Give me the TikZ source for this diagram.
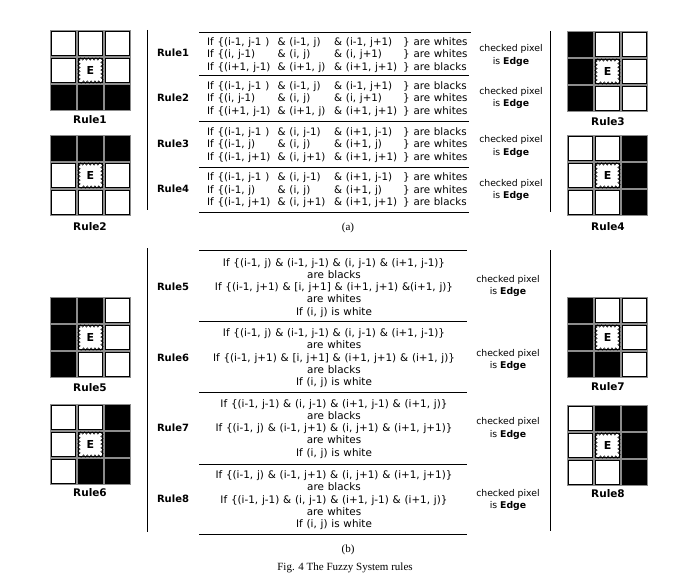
\documentclass[tikz,border=0pt]{standalone}
\usepackage{fontspec}
\setmainfont{DejaVu Sans}
\newfontfamily\rulefont[WordSpace=1.5]{DejaVu Sans}
\newfontfamily\tabfont[WordSpace=1.15]{DejaVu Sans}
\newfontfamily\capfont{Liberation Serif}
\usetikzlibrary{decorations.pathmorphing}
\tikzset{
  gridbg/.style={fill=black!45},
  pcell/.style={draw=black, line width=0.5pt},
  ezig/.style={draw=black, line width=0.5pt, decorate,
    decoration={zigzag, segment length=3.8pt, amplitude=1.2pt}},
  eletter/.style={font=\fontsize{11}{12}\selectfont\bfseries, inner sep=0pt},
  gridlbl/.style={font=\fontsize{10.5}{12}\selectfont\bfseries},
  rulelbl/.style={font=\fontsize{10}{12}\selectfont\bfseries},
  ruletxt/.style={font=\tabfont\fontsize{10.3}{12}\selectfont, anchor=base west, inner sep=0pt},
  ctrtxt/.style={font=\rulefont\fontsize{10.4}{12}\selectfont, anchor=base, inner sep=0pt},
  edgetxt/.style={font=\fontsize{9.3}{12.2}\selectfont, align=center, inner sep=0pt},
  sepline/.style={line width=0.8pt},
  vline/.style={line width=0.8pt},
  captxt/.style={font=\capfont\fontsize{11}{12}\selectfont, inner sep=0pt},
}
% grid: name, x, y, nine fill colours row by row (centre one is the E cell)
\newcommand{\pixgrid}[4]{%
  \begin{scope}[shift={(#2,#3)}]
    \fill[gridbg] (0,0) rectangle (81,81);
    \foreach \c [count=\i from 0] in {#4} {
      \pgfmathtruncatemacro{\cc}{mod(\i,3)}
      \pgfmathtruncatemacro{\rr}{div(\i,3)}
      \draw[pcell, fill=\c] ({\cc*27+1.6},{\rr*27+1.6}) rectangle ({\cc*27+25.4},{\rr*27+25.4});
    }
    \fill[white] (29,29) rectangle (52,52);
    \draw[ezig] (29,29) rectangle (52,52);
    \node[eletter] (#1) at (40.5,40.5) {E};
  \end{scope}}
% rule line of part (a): name, baseline y, four column texts
\newcommand{\aline}[6]{%
  \node[ruletxt] (#1a) at (207,#2) {#3};
  \node[ruletxt] (#1b) at (277.5,#2) {#4};
  \node[ruletxt] (#1c) at (334,#2) {#5};
  \node[ruletxt] (#1d) at (403,#2) {#6};}
% rule block of part (b): name, first baseline, five lines
\newcommand{\bblock}[7]{%
  \node[ctrtxt] (#1a) at (334,{#2}) {#3};
  \node[ctrtxt] (#1b) at (334,{#2+12.3}) {#4};
  \node[ctrtxt] (#1c) at (334,{#2+24.6}) {#5};
  \node[ctrtxt] (#1d) at (334,{#2+36.9}) {#6};
  \node[ctrtxt] (#1e) at (334,{#2+49.2}) {#7};}
\begin{document}
\begin{tikzpicture}[x=1pt,y=-1pt]
\useasboundingbox (0,0) rectangle (696,580);

% ---------- grids ----------
\pixgrid{g1}{50}{30}{white,white,white,white,white,white,black,black,black}
\pixgrid{g2}{50}{135}{black,black,black,white,white,white,white,white,white}
\pixgrid{g3}{567}{31}{black,white,white,black,white,white,black,white,white}
\pixgrid{g4}{567}{135}{white,white,black,white,white,black,white,white,black}
\pixgrid{g5}{50}{297}{black,black,white,black,white,white,black,white,white}
\pixgrid{g6}{50}{404}{white,white,black,white,white,black,white,black,black}
\pixgrid{g7}{567}{297}{black,white,white,black,white,white,black,black,white}
\pixgrid{g8}{567}{405}{white,black,black,white,white,black,white,white,black}

\node[gridlbl] (l1) at (90,120) {Rule1};
\node[gridlbl] (l2) at (90,227) {Rule2};
\node[gridlbl] (l3) at (608,122) {Rule3};
\node[gridlbl] (l4) at (608,227) {Rule4};
\node[gridlbl] (l5) at (90,388) {Rule5};
\node[gridlbl] (l6) at (90,493) {Rule6};
\node[gridlbl] (l7) at (608,387) {Rule7};
\node[gridlbl] (l8) at (608,494) {Rule8};

% ---------- part (a) ----------
\draw[vline] (147,30) -- (147,210);
\draw[vline] (550,31) -- (550,212);
\draw[sepline] (199,32) -- (471,32);
\draw[sepline] (199,75) -- (469,75);
\draw[sepline] (199,121) -- (469,121);
\draw[sepline] (199,167) -- (469,167);
\draw[sepline] (199,212) -- (469,212);

\node[rulelbl] (r1) at (173,53) {Rule1};
\node[rulelbl] (r2) at (173,98) {Rule2};
\node[rulelbl] (r3) at (173,144) {Rule3};
\node[rulelbl] (r4) at (173,189) {Rule4};

\aline{a11}{45.5}{If \{(i-1, j-1 )}{\& (i-1, j)}{\& (i-1, j+1)}{\} are whites}
\aline{a12}{58}{If \{(i, j-1)}{\& (i, j)}{\& (i, j+1)}{\} are whites}
\aline{a13}{70.5}{If \{(i+1, j-1)}{\& (i+1, j)}{\& (i+1, j+1)}{\} are blacks}
\aline{a21}{89.3}{If \{(i-1, j-1 )}{\& (i-1, j)}{\& (i-1, j+1)}{\} are blacks}
\aline{a22}{101.8}{If \{(i, j-1)}{\& (i, j)}{\& (i, j+1)}{\} are whites}
\aline{a23}{114.3}{If \{(i+1, j-1)}{\& (i+1, j)}{\& (i+1, j+1)}{\} are whites}
\aline{a31}{135.3}{If \{(i-1, j-1 )}{\& (i, j-1)}{\& (i+1, j-1)}{\} are blacks}
\aline{a32}{147.8}{If \{(i-1, j)}{\& (i, j)}{\& (i+1, j)}{\} are whites}
\aline{a33}{160.3}{If \{(i-1, j+1)}{\& (i, j+1)}{\& (i+1, j+1)}{\} are whites}
\aline{a41}{181}{If \{(i-1, j-1 )}{\& (i, j-1)}{\& (i+1, j-1)}{\} are whites}
\aline{a42}{193.5}{If \{(i-1, j)}{\& (i, j)}{\& (i+1, j)}{\} are whites}
\aline{a43}{206}{If \{(i-1, j+1)}{\& (i, j+1)}{\& (i+1, j+1)}{\} are blacks}

\node[edgetxt] (e1) at (511,55.5) {checked pixel\\is \textbf{Edge}};
\node[edgetxt] (e2) at (511,98) {checked pixel\\is \textbf{Edge}};
\node[edgetxt] (e3) at (511,146.5) {checked pixel\\is \textbf{Edge}};
\node[edgetxt] (e4) at (511,190) {checked pixel\\is \textbf{Edge}};

\node[captxt] (capa) at (348,228) {(a)};

% ---------- part (b) ----------
\draw[vline] (147,248) -- (147,532);
\draw[vline] (550,250) -- (550,531);
\draw[sepline] (199,250) -- (467,250);
\draw[sepline] (199,321) -- (467,321);
\draw[sepline] (199,392) -- (467,392);
\draw[sepline] (199,464) -- (467,464);
\draw[sepline] (199,534) -- (467,534);

\node[rulelbl] (r5) at (173,287) {Rule5};
\node[rulelbl] (r6) at (173,358) {Rule6};
\node[rulelbl] (r7) at (173,428) {Rule7};
\node[rulelbl] (r8) at (173,499) {Rule8};

\bblock{b5}{266}{If \{(i-1, j) \& (i-1, j-1) \& (i, j-1) \& (i+1, j-1)\}}{are blacks}{If \{(i-1, j+1) \& [i, j+1] \& (i+1, j+1) \&(i+1, j)\}}{are whites}{If (i, j) is white}
\bblock{b6}{336.5}{If \{(i-1, j) \& (i-1, j-1) \& (i, j-1) \& (i+1, j-1)\}}{are whites}{If \{(i-1, j+1) \& [i, j+1] \& (i+1, j+1) \& (i+1, j)\}}{are blacks}{If (i, j) is white}
\bblock{b7}{407}{If \{(i-1, j-1) \& (i, j-1) \& (i+1, j-1) \& (i+1, j)\}}{are blacks}{If \{(i-1, j) \& (i-1, j+1) \& (i, j+1) \& (i+1, j+1)\}}{are whites}{If (i, j) is white}
\bblock{b8}{478.5}{If \{(i-1, j) \& (i-1, j+1) \& (i, j+1) \& (i+1, j+1)\}}{are blacks}{If \{(i-1, j-1) \& (i, j-1) \& (i+1, j-1) \& (i+1, j)\}}{are whites}{If (i, j) is white}

\node[edgetxt] (e5) at (508,286) {checked pixel\\is \textbf{Edge}};
\node[edgetxt] (e6) at (508,360) {checked pixel\\is \textbf{Edge}};
\node[edgetxt] (e7) at (508,428.5) {checked pixel\\is \textbf{Edge}};
\node[edgetxt] (e8) at (508,500) {checked pixel\\is \textbf{Edge}};

\node[captxt] (capb) at (348,550) {(b)};
\node[captxt] (capf) at (345,568) {Fig. 4 The Fuzzy System rules};
\end{tikzpicture}
\end{document}
